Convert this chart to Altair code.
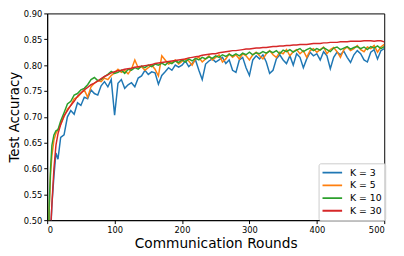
import altair as alt
import pandas as pd

rounds = [1, 3, 5, 7, 10, 13, 16, 20] + list(range(25, 505, 5))

k3 = [0.30, 0.40, 0.47, 0.53, 0.585, 0.63, 0.618, 0.66,
      0.665, 0.70, 0.712, 0.705, 0.727, 0.722, 0.738, 0.735, 0.752, 0.745,
      0.742, 0.76, 0.768, 0.758, 0.772, 0.703, 0.765, 0.772, 0.755, 0.762,
      0.766, 0.758, 0.775, 0.779, 0.79, 0.782, 0.787, 0.785, 0.763, 0.78,
      0.787, 0.795, 0.79, 0.80, 0.796, 0.80, 0.808, 0.797, 0.803, 0.81,
      0.79, 0.772, 0.802, 0.808, 0.812, 0.806, 0.81, 0.815, 0.803, 0.81,
      0.79, 0.786, 0.81, 0.815, 0.795, 0.78, 0.81, 0.818, 0.812, 0.82,
      0.806, 0.784, 0.79, 0.812, 0.82, 0.81, 0.803, 0.818, 0.80, 0.822,
      0.815, 0.795, 0.812, 0.825, 0.818, 0.822, 0.81, 0.826, 0.818, 0.793,
      0.815, 0.825, 0.82, 0.827, 0.815, 0.805, 0.82, 0.828, 0.822, 0.81,
      0.806, 0.825, 0.83, 0.812, 0.828, 0.832]

k5 = [0.38, 0.52, 0.59, 0.625, 0.655, 0.668, 0.675, 0.685,
      0.70, 0.715, 0.722, 0.735, 0.738, 0.745, 0.752, 0.738, 0.758, 0.765,
      0.77, 0.768, 0.775, 0.772, 0.78, 0.785, 0.792, 0.786, 0.79, 0.783,
      0.792, 0.81, 0.795, 0.797, 0.79, 0.795, 0.80, 0.792, 0.779, 0.818,
      0.81, 0.802, 0.805, 0.81, 0.802, 0.807, 0.812, 0.808, 0.80, 0.812,
      0.815, 0.806, 0.812, 0.818, 0.81, 0.815, 0.82, 0.806, 0.812, 0.822,
      0.815, 0.82, 0.812, 0.822, 0.818, 0.81, 0.82, 0.825, 0.818, 0.812,
      0.822, 0.828, 0.82, 0.815, 0.825, 0.822, 0.83, 0.818, 0.826, 0.83,
      0.822, 0.828, 0.815, 0.828, 0.832, 0.825, 0.83, 0.835, 0.822, 0.83,
      0.834, 0.826, 0.815, 0.83, 0.835, 0.828, 0.832, 0.838, 0.83, 0.826,
      0.835, 0.832, 0.838, 0.825, 0.835, 0.84]

k10 = [0.40, 0.53, 0.60, 0.645, 0.665, 0.673, 0.675, 0.692,
       0.708, 0.725, 0.73, 0.742, 0.745, 0.752, 0.755, 0.762, 0.772, 0.776,
       0.77, 0.772, 0.778, 0.782, 0.788, 0.784, 0.786, 0.79, 0.784, 0.792,
       0.79, 0.795, 0.792, 0.798, 0.795, 0.80, 0.797, 0.802, 0.80, 0.804,
       0.80, 0.806, 0.803, 0.808, 0.805, 0.81, 0.806, 0.812, 0.808, 0.813,
       0.81, 0.815, 0.812, 0.816, 0.813, 0.818, 0.815, 0.82, 0.817, 0.821,
       0.818, 0.822, 0.818, 0.823, 0.82, 0.825, 0.82, 0.824, 0.822, 0.826,
       0.823, 0.827, 0.824, 0.828, 0.822, 0.829, 0.826, 0.83, 0.825, 0.829,
       0.832, 0.826, 0.83, 0.833, 0.828, 0.832, 0.829, 0.834, 0.83, 0.826,
       0.833, 0.835, 0.83, 0.833, 0.836, 0.831, 0.834, 0.836, 0.832, 0.835,
       0.83, 0.836, 0.833, 0.837, 0.832, 0.836]

k30 = [0.30, 0.42, 0.48, 0.53, 0.60, 0.645, 0.667, 0.685,
       0.702, 0.712, 0.722, 0.73, 0.74, 0.746, 0.752, 0.757, 0.762, 0.765,
       0.769, 0.774, 0.778, 0.781, 0.785, 0.787, 0.789, 0.79, 0.792, 0.793,
       0.794, 0.796, 0.797, 0.798, 0.799, 0.80, 0.801, 0.803, 0.804, 0.805,
       0.806, 0.807, 0.808, 0.809, 0.81, 0.811, 0.812, 0.814, 0.815, 0.816,
       0.817, 0.819, 0.82, 0.821, 0.822, 0.822, 0.824, 0.825, 0.826, 0.827,
       0.828, 0.828, 0.829, 0.83, 0.831, 0.831, 0.832, 0.833, 0.833, 0.834,
       0.834, 0.835, 0.836, 0.836, 0.837, 0.837, 0.838, 0.838, 0.839, 0.839,
       0.84, 0.84, 0.84, 0.841, 0.842, 0.842, 0.842, 0.843, 0.843, 0.844,
       0.844, 0.844, 0.845, 0.845, 0.845, 0.846, 0.846, 0.846, 0.846, 0.847,
       0.847, 0.847, 0.846, 0.847, 0.847, 0.845]

labels = ["K = 3", "K = 5", "K = 10", "K = 30"]
colors = ["#1f77b4", "#ff7f0e", "#2ca02c", "#d62728"]
series = [k3, k5, k10, k30]

x_ticks = [0, 100, 200, 300, 400, 500]
y_ticks = [0.50, 0.55, 0.60, 0.65, 0.70, 0.75, 0.80, 0.85, 0.90]

FONT = "DejaVu Sans"

color_scale = alt.Scale(domain=labels, range=colors)

layers = []
for lab, vals in zip(labels, series):
    df = pd.DataFrame({"round": rounds, "acc": vals, "K": lab})
    layers.append(
        alt.Chart(df).mark_line(strokeWidth=1.5, clip=True).encode(
            x=alt.X("round:Q",
                    scale=alt.Scale(domain=[0, 500], nice=False, zero=False),
                    axis=alt.Axis(values=x_ticks, title="Communication Rounds",
                                  format="d")),
            y=alt.Y("acc:Q",
                    scale=alt.Scale(domain=[0.5, 0.9], nice=False, zero=False),
                    axis=alt.Axis(values=y_ticks, title="Test Accuracy",
                                  format=".2f")),
            color=alt.Color("K:N", scale=color_scale, sort=labels,
                            legend=alt.Legend(title=None, orient="none",
                                              legendX=277, legendY=153,
                                              clipHeight=13)),
        )
    )

chart = alt.layer(*layers).properties(
    width=344, height=211,
    padding={"left": 40, "top": 3, "right": 12, "bottom": 32},
    autosize=alt.AutoSizeParams(type="none"),
).configure_view(
    stroke="black", strokeWidth=1
).configure_axis(
    labelFont=FONT, titleFont=FONT, labelFontSize=8.5, titleFontSize=14,
    titleFontWeight="normal", labelColor="black", titleColor="black",
    domainColor="black", tickColor="black", tickSize=3.5, labelPadding=2,
    grid=False, domainWidth=1
).configure_axisX(
    titlePadding=3
).configure_axisY(
    titlePadding=2, titleFontSize=13.5
).configure_legend(
    labelFont=FONT, labelFontSize=9.5, labelColor="black",
    symbolType="stroke", symbolSize=400, symbolStrokeWidth=2,
    strokeColor="#cccccc", fillColor="rgba(255,255,255,0.8)",
    padding=3, cornerRadius=2, rowPadding=0, labelOffset=7
)

chart.save("out.html", embed_options={"renderer": "svg", "actions": False})
